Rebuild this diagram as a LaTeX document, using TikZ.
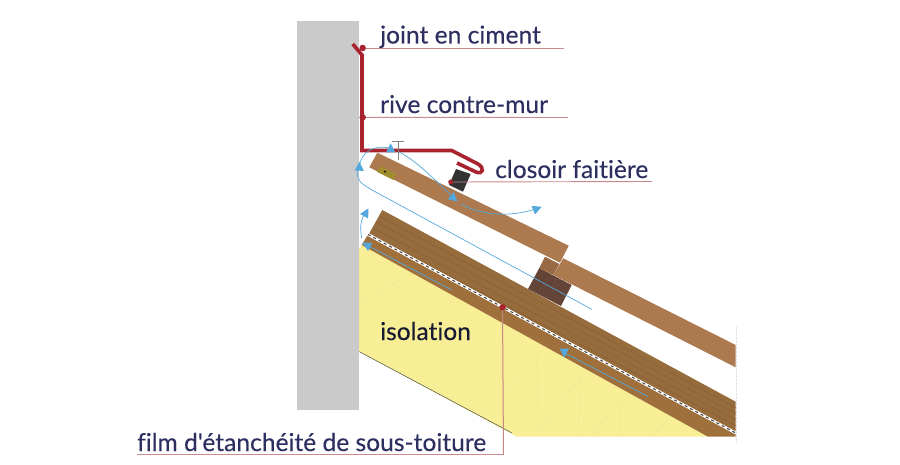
\documentclass[tikz,border=0pt]{standalone}
\usepackage{fontspec}
\setmainfont{Lato}[Ligatures={TeXOff,CommonOff},FakeBold=0.25]
\definecolor{wallgray}{HTML}{CACACA}
\definecolor{flashred}{HTML}{A8232E}
\definecolor{leaderred}{HTML}{C98A8E}
\definecolor{inkblue}{HTML}{2C2F5F}
\definecolor{batten}{HTML}{AD7A50}
\definecolor{rafter}{HTML}{976C3C}
\definecolor{plank}{HTML}{A0703C}
\definecolor{block}{HTML}{654537}
\definecolor{wool}{HTML}{F7EE95}
\definecolor{air}{HTML}{54A8DC}
\tikzset{
% Labels, leaders and the air flow
label text/.style={anchor=base west,inner sep=0,text=inkblue,font=\fontsize{24.6}{24.6}\selectfont},
leader dot/.style={circle,fill=flashred,inner sep=0,minimum size=6.5pt},
leader/.style={draw=leaderred,line width=0.9pt},
air line/.style={draw=air,line width=0.7pt},
air head/.style={fill=air},
wood line/.style={draw=black!14!rafter,line width=0.4pt},
fold line/.style={draw=black!3!wool,line width=0.5pt}
}

\begin{document}
\begin{tikzpicture}[x=1pt,y=-1pt]
  \useasboundingbox (0,0) rectangle (900,465);
  % insulation and its folds
  \fill[wool] (359,248) -- (362,245) -- (708,436.7) -- (517,436.7) -- (359,351.7) -- cycle;
  \draw[fold line] (360,303) -- (413,273);
  \draw[fold line] (500,393) -- (536.7,355) -- (538.3,430) -- (581.7,377.3) -- (577.3,436.7);
  \draw[fold line] (591.7,435) -- (620,398.3) -- (620,436.7);
  \draw[fold line] (653,436.7) -- (668,420);
  \draw[black!70,line width=0.5pt] (359.3,351.7) -- (512,433);
  \draw[black!12,densely dotted,line width=0.4pt] (735.7,327) -- (735.7,443);
  % rafter, plank and film
  \fill[plank] (367.3,235.7) -- (735.7,434) -- (735.7,436.7) -- (708,436.7) -- (361.7,245) -- cycle;
  \fill[rafter] (382.3,210) -- (735.7,401.7) -- (735.7,431.7) -- (369.3,233.3) -- cycle;
  \foreach \d in {6,12,18,24}
    \draw[wood line] (382.3-3.2*\d/6,210+\d) -- (735.7,401.7+\d);
  \draw[white,line width=2.6pt] (368,234.5) -- (735.7,433);
  \draw[black!75,line width=1pt,dash pattern=on 3pt off 3pt] (368,234.5) -- (735.7,433);
  % wall
  \fill[wallgray] (297,21) rectangle (359,410);
  % counter battens
  \fill[block] (539.3,268) -- (571.7,285) -- (561,306) -- (528,289) -- cycle;
  \foreach \d in {8,16,24}
    \draw[black!12!block,line width=0.3pt] (539.3+\d,268+\d/2) -- (528+\d,289+\d/2);
  \fill[black!12!batten] (545,256.7) -- (559.3,264) -- (553.3,275) -- (539.3,268) -- cycle;
  \fill[batten] (377.3,152.7) -- (568.7,245.7) -- (560,262.7) -- (369.3,167.3) -- cycle;
  \fill[batten] (563.3,258.3) -- (735.7,345) -- (735.7,367.3) -- (553.3,275) -- cycle;
  \fill[fill=olive!55!batten] (380.7,166) -- (395.7,174.3) -- (393.3,180) -- (376.7,171.7) -- cycle;
  \fill[black] (385,171.7) circle (1pt);
  % closure block and flashing
  \fill[black!80] (456,169) -- (470.7,174) -- (463,191.7) -- (449,185) -- cycle;
  \draw[flashred,line width=3.6pt,line join=miter] (352.7,44) -- (362,55) -- (362,150.5) -- (451.7,150.5) -- (478,164)
    .. controls (485,168) and (483,175) .. (476,172) -- (457,163);
  \draw[black!50,line width=0.5pt] (392.3,141.3) -- (404.3,141.3) (398.3,141.3) -- (398.3,160);
  % air flow
  \draw[air line] (591.7,309.3) -- (372,190) .. controls (362,184) and (354,180) .. (359,167)
    .. controls (362,150) and (375,145) .. (390,148);
  \draw[air line] (399,152) .. controls (415,160) and (430,175) .. (454,198);
  \draw[air line] (461,204) .. controls (480,215) and (510,218) .. (537,208.5);
  \draw[air line] (361.7,238) .. controls (360,228) and (360,220) .. (366,212);
  \draw[air line] (451.7,290) -- (366.7,245);
  \draw[air line] (648.3,396.7) -- (564,352.7);
  \foreach \x/\y/\a in {390.7/148.3/90,359.3/166.7/88,453.7/198.3/-42,537/208.7/22,366/212.7/62,366.7/245/152,564.3/352.7/-90}
    \fill[air head,shift={(\x,\y)},rotate=\a] (5,0) -- (-4,4.6) -- (-4,-4.6) -- cycle;
  % labels
  \node[label text] (joint) at (380,43.5) {joint en ciment};
  \node[label text] (rive) at (380,113) {rive contre-mur};
  \node[label text] (closoir) at (495,178) {closoir faitière};
  \node[label text,text=inkblue!55!black] (isolation) at (380,340) {isolation};
  \node[label text] (film) at (137,451) {film d'étanchéité de sous-toiture};
  % leaders
  \node[leader dot] (jointdot) at (362.7,48) {};
  \node[leader dot] (rivedot) at (362.7,117.3) {};
  \node[leader dot,minimum size=5pt] (closoirdot) at (450.7,182) {};
  \node[leader dot] (filmdot) at (502.5,307.3) {};
  \coordinate (jointend) at (564,48);
  \coordinate (riveend) at (568,117.5);
  \coordinate (closoirend) at (652,181.5);
  \coordinate (filmcorner) at (503.5,454.5);
  \coordinate (filmend) at (137,454.5);
  \draw[leader] (jointdot) -- (jointend);
  \draw[leader] (rivedot) -- (riveend);
  \draw[leader] (closoirdot) -- (closoirend);
  \draw[draw=leaderred!80!batten,line width=1pt] (filmdot) -- (filmcorner);
  \draw[leader] (filmcorner) -- (filmend);
\end{tikzpicture}
\end{document}
